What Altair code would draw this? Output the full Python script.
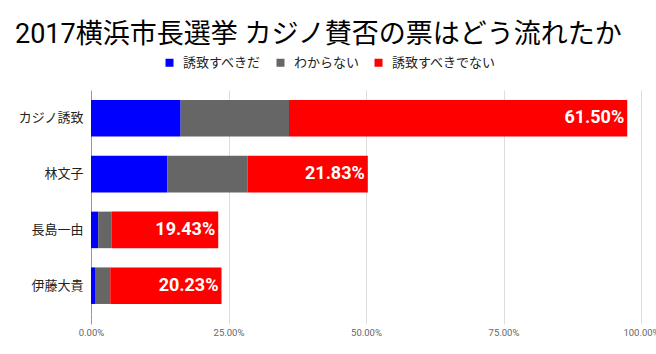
import altair as alt
import pandas as pd

title_text = "2017横浜市長選挙 カジノ賛否の票はどう流れたか"
categories = ["カジノ誘致", "林文子", "長島一由", "伊藤大貴"]
series_names = ["誘致すべきだ", "わからない", "誘致すべきでない"]
series_colors = ["#0000ff", "#666666", "#ff0000"]
yes_vals = [16.3, 13.9, 1.3, 0.85]
unsure_vals = [19.7, 14.6, 2.4, 2.65]
no_vals = [61.50, 21.83, 19.43, 20.23]
x_ticks = [0, 25, 50, 75, 100]

FONT = "Roboto, 'Noto Sans CJK JP', sans-serif"

rows = []
for i, cat in enumerate(categories):
    for j, (name, vals) in enumerate(zip(series_names, [yes_vals, unsure_vals, no_vals])):
        rows.append({"category": cat, "series": name, "value": vals[i], "order": j})
df = pd.DataFrame(rows)

base = alt.Chart(df)

bars = base.mark_bar().encode(
    y=alt.Y(
        "category:N",
        sort=categories,
        scale=alt.Scale(paddingInner=0.345, paddingOuter=0.18),
        axis=alt.Axis(
            title=None, labelFontSize=13, ticks=False, domain=False,
            labelPadding=8, labelColor="#222222", grid=False, labelFont=FONT,
        ),
    ),
    x=alt.X(
        "value:Q",
        stack="zero",
        scale=alt.Scale(domain=[0, 100], nice=False),
        axis=alt.Axis(
            values=x_ticks,
            labelExpr="format(datum.value / 100, '.2%')",
            title=None,
            grid=True,
            gridColor={"condition": {"test": "datum.value === 0", "value": "#999999"}, "value": "#dddddd"},
            tickColor={"condition": {"test": "datum.value === 0", "value": "#999999"}, "value": "#dddddd"},
            tickSize=10,
            domain=False,
            labelFontSize=9.5,
            labelColor="#666666",
            labelPadding=3,
            labelFont=FONT,
            labelFlush=False,
        ),
    ),
    color=alt.Color(
        "series:N",
        scale=alt.Scale(domain=series_names, range=series_colors),
        sort=series_names,
        legend=alt.Legend(
            title=None, orient="none", direction="horizontal",
            legendX=72, legendY=-34,
            symbolType="square", symbolSize=64, symbolStrokeWidth=0,
            labelFontSize=13, labelColor="#222222", labelFont=FONT,
            columnPadding=12, labelOffset=7,
        ),
    ),
    order=alt.Order("order:Q"),
)

labels = (
    base.transform_joinaggregate(total="sum(value)", groupby=["category"])
    .transform_filter(alt.datum.series == "誘致すべきでない")
    .transform_calculate(label="format(datum.value / 100, '.2%')")
    .mark_text(align="right", baseline="middle", dx=-3, color="white",
               fontWeight="bold", fontSize=18, font=FONT)
    .encode(
        y=alt.Y("category:N", sort=categories),
        x=alt.X("total:Q"),
        text="label:N",
    )
)

chart = (
    alt.layer(bars, labels)
    .properties(
        width=550,
        height=224,
        autosize=alt.AutoSizeParams(type="none"),
        padding={"left": 91, "top": 90, "right": 15, "bottom": 40},
        title=alt.TitleParams(
            text=title_text, anchor="start", dx=-3, fontSize=27,
            fontWeight="normal", font=FONT, color="#000000", offset=7,
        ),
    )
    .configure_view(stroke=None)
)

chart.save("out.html", embed_options={"renderer": "svg", "actions": False})
